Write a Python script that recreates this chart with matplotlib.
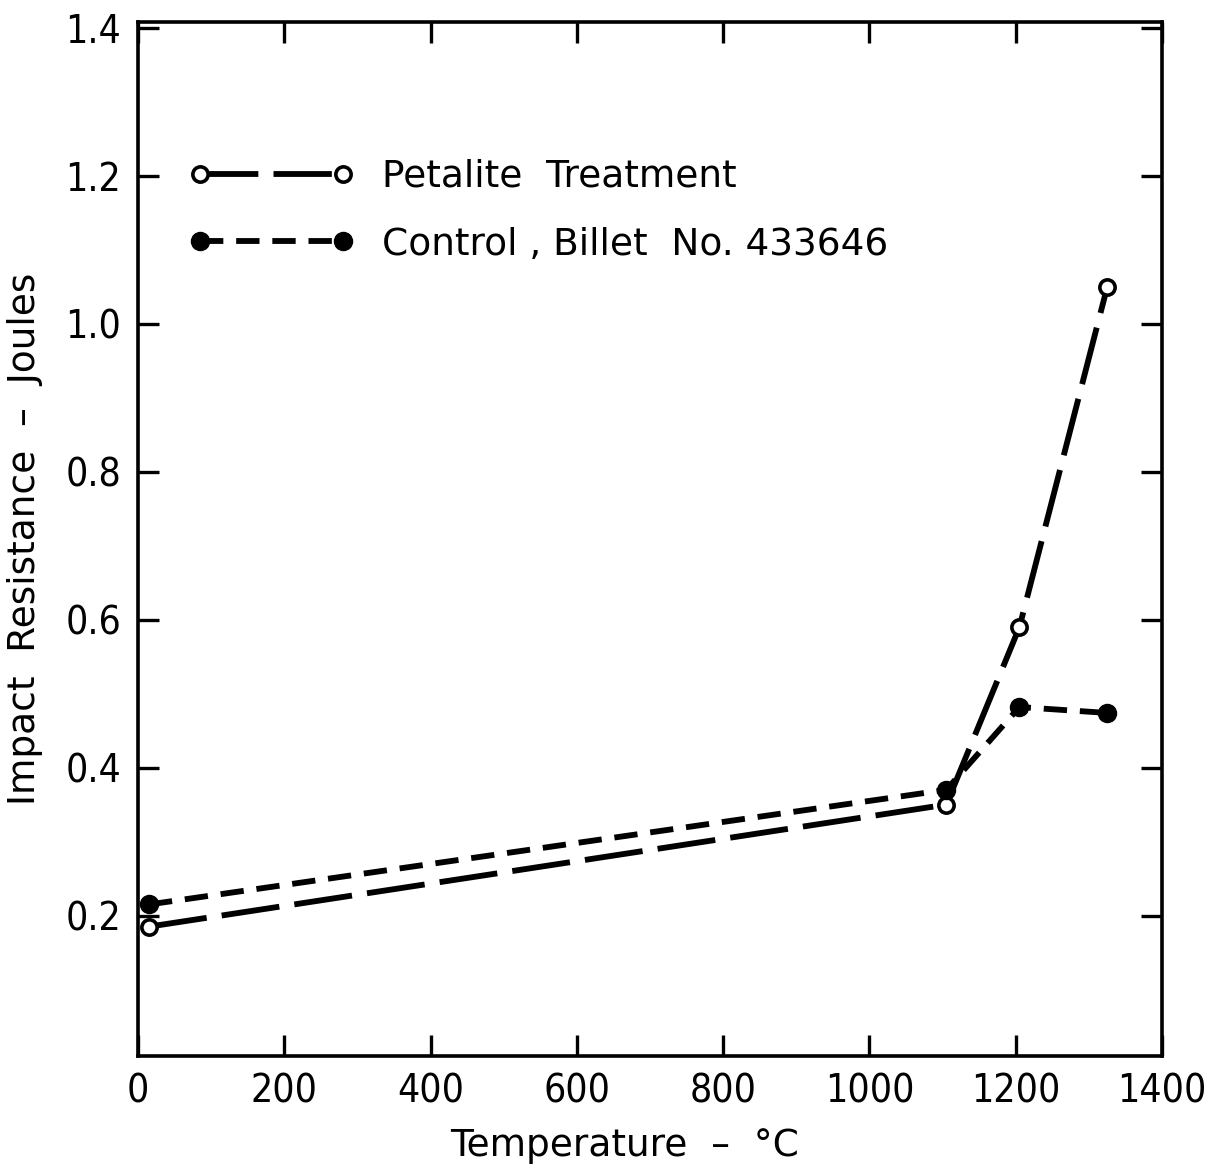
import numpy as np
import matplotlib
matplotlib.use("Agg")
import matplotlib.pyplot as plt
from matplotlib.ticker import FormatStrFormatter

# valori
temp_petalite = [15, 1105, 1205, 1325]
imp_petalite = [0.185, 0.35, 0.59, 1.05]
temp_control = [15, 1105, 1205, 1325]
imp_control = [0.215, 0.37, 0.482, 0.474]

xticks = [0, 200, 400, 600, 800, 1000, 1200, 1400]
yticks = [0.2, 0.4, 0.6, 0.8, 1.0, 1.2, 1.4]

plt.rcParams['font.family'] = ['DejaVu Sans']

fig = plt.figure(figsize=(12.13, 11.73), dpi=100)
ax = fig.add_axes([0.1138, 0.0997, 0.8442, 0.8813])

lw = 4.2
ax.plot(temp_petalite, imp_petalite, color='black', lw=lw, dashes=(10, 2.6),
        marker='o', ms=11, mfc='white', mec='black', mew=2.6,
        label='Petalite  Treatment')
ax.plot(temp_control, imp_control, color='black', lw=lw, dashes=(4, 2.2),
        marker='o', ms=13, mfc='black', mec='black',
        label='Control , Billet  No. 433646')

ax.set_xlim(0, 1400)
ax.set_ylim(0.01, 1.408)
ax.set_xticks(xticks)
ax.set_yticks(yticks)
ax.yaxis.set_major_formatter(FormatStrFormatter('%.1f'))

for s in ax.spines.values():
    s.set_linewidth(2.6)
ax.tick_params(direction='in', length=15, width=2.4, labelsize=28,
               top=True, right=True, pad=12)
for lab in ax.get_xticklabels() + ax.get_yticklabels():
    lab.set_fontstretch('condensed')

ax.set_xlabel('Temperature  –  °C', fontsize=27)
ax.xaxis.set_label_coords(0.475, -0.07)
ax.set_ylabel('Impact  Resistance  –  Joules', fontsize=27, labelpad=16)

leg = ax.legend(loc='upper left', bbox_to_anchor=(0.05, 0.868), frameon=False,
                numpoints=2, handlelength=4.4, handletextpad=0.75,
                labelspacing=0.85, fontsize=27, borderpad=0, borderaxespad=0)

fig.savefig('out.png', dpi=100)
